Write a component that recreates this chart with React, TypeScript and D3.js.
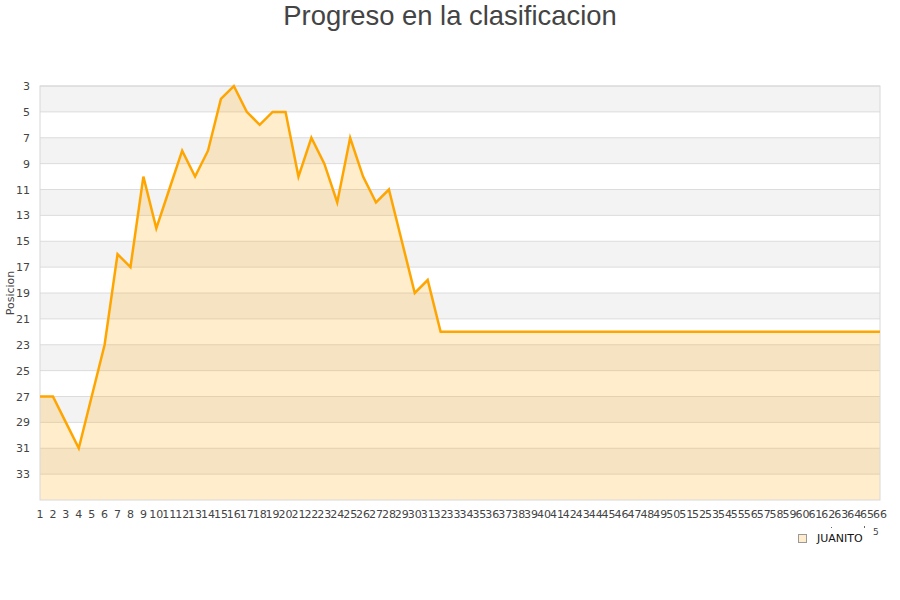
import React from "react";
import * as d3 from "d3";

const jornadas: number[] = Array.from({ length: 66 }, (_, i) => i + 1);
const posiciones: number[] = [
  27, 27, 29, 31, 27, 23, 16, 17, 10, 14, 11, 8, 10, 8, 4, 3, 5, 6, 5, 5,
  10, 7, 9, 12, 7, 10, 12, 11, 15, 19, 18, 22, 22, 22, 22, 22, 22, 22, 22, 22,
  22, 22, 22, 22, 22, 22, 22, 22, 22, 22, 22, 22, 22, 22, 22, 22, 22, 22, 22, 22,
  22, 22, 22, 22, 22, 22,
];
const yTicks: number[] = [3, 5, 7, 9, 11, 13, 15, 17, 19, 21, 23, 25, 27, 29, 31, 33];
const title = "Progreso en la clasificacion";
const yTitle = "Posicion";
const seriesName = "JUANITO";

export default function App() {
  const W = 900, H = 600;
  const left = 40, right = 880, top = 86, bottom = 500;
  const x = d3.scaleLinear().domain([1, 66]).range([left, right]);
  const y = d3.scaleLinear().domain([3, 35]).range([top, bottom]);
  const data = jornadas.map((j, i) => ({ j, p: posiciones[i] }));
  const area = d3.area<{ j: number; p: number }>().x(d => x(d.j)).y0(y(35)).y1(d => y(d.p));
  const line = d3.line<{ j: number; p: number }>().x(d => x(d.j)).y(d => y(d.p));
  const bands = d3.range(3, 35, 4);
  const font = "'DejaVu Sans', sans-serif";
  return (
    <svg width={W} height={H} style={{ position: "absolute", left: 0, top: 0, display: "block" }}>
      <rect x={0} y={0} width={W} height={H} fill="#fff" />
      <text x={450} y={25} textAnchor="middle" fontFamily="'Liberation Sans', Arial, sans-serif" fontSize={27.4} fill="#444">{title}</text>
      {bands.map(b => (
        <rect key={b} x={left} y={y(b)} width={right - left} height={y(b + 2) - y(b)} fill="#f3f3f3" />
      ))}
      {yTicks.map(t => (
        <line key={t} x1={left} x2={right} y1={y(t)} y2={y(t)} stroke="#dcdcdc" strokeWidth={1} />
      ))}
      <path d={area(data) || ""} fill="rgba(255,165,0,0.2)" />
      <rect x={left} y={top} width={right - left} height={bottom - top} fill="none" stroke="#d8d8d8" strokeWidth={1} />
      <path d={line(data) || ""} fill="none" stroke="#ffa500" strokeWidth={2.5} strokeLinejoin="miter" />
      {yTicks.map(t => (
        <text key={t} x={30} y={y(t) + 4} textAnchor="end" fontFamily={font} fontSize={11} fill="#444">{t}</text>
      ))}
      {jornadas.map(j => (
        <text key={j} x={x(j)} y={518} textAnchor="middle" fontFamily={font} fontSize={11} fill="#444">{j}</text>
      ))}
      <text transform={`translate(14,${(top + bottom) / 2 + 0}) rotate(-90)`} textAnchor="middle" fontFamily={font} fontSize={11} fill="#444">{yTitle}</text>
      <rect x={798.5} y={534.5} width={8} height={8} fill="#ffeccc" stroke="#999" strokeWidth={1} />
      <text x={817} y={542} fontFamily={font} fontSize={11} fill="#111">{seriesName}</text>
      <text x={873} y={535} fontFamily={font} fontSize={9} fill="#444">5</text>
      <rect x={831} y={527} width={1} height={1} fill="#666" />
      <rect x={864} y={526} width={1} height={2} fill="#666" />
    </svg>
  );
}
